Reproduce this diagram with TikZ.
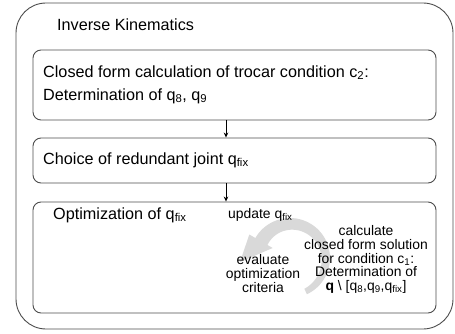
\documentclass[tikz,border=0pt]{standalone}
\usepackage{fontspec}
\setmainfont{Liberation Sans}
\usetikzlibrary{arrows.meta}
\begin{document}
\begin{tikzpicture}[x=1pt, y=-1pt, line join=round, line cap=round, >={Stealth[length=5pt,width=4.5pt]}]
	\def \bx{234.5}
	\def \bw{403}
	\tikzset{
		stage/.style={draw=black!70, line width=0.9pt, rounded corners=8pt, minimum width=\bw pt, inner sep=0pt},
		big/.style={font=\fontsize{16.2}{23}\selectfont, inner sep=0pt, align=left},
		small/.style={font=\fontsize{13.9}{13.8}\selectfont, inner sep=0pt, align=center},
		flow/.style={->, line width=0.9pt}
	}
	\useasboundingbox (0,0) rectangle (455,334);
	% --- outer frame
	\node[stage, rounded corners=30pt, minimum width=437pt, minimum height=326pt] (ik) at (\bx,166) {};
	\node[big, anchor=west] (iktitle) at (57,25) {Inverse Kinematics};
	% --- stages
	\node[stage, minimum height=70pt] (trocar) at (\bx,85) {};
	\node[big, anchor=west] (trocartext) at (43,84.5) {Closed form calculation of trocar condition c\textsubscript{2}:\\Determination of q\textsubscript{8}, q\textsubscript{9}};
	\node[stage, minimum height=45pt] (choice) at (\bx,160.5) {};
	\node[big, anchor=west] (choicetext) at (43,160) {Choice of redundant joint q\textsubscript{fix}};
	\node[stage, minimum height=111pt] (optim) at (\bx,257.5) {};
	\node[big, anchor=west] (optimtitle) at (53,215) {Optimization of q\textsubscript{fix}};
	\draw[flow] ([xshift=-8.5pt]trocar.south) -- ([xshift=-8.5pt]choice.north);
	\draw[flow] ([xshift=-8.5pt]choice.south) -- ([xshift=-8.5pt]optim.north);
	% --- loop arrow
	\begin{scope}[shift={(290,258)}, yscale=-1]
		\fill[black!15] (-65:40) arc (-65:150:40) -- (150:47) -- (-50,-4) -- (150:20)
			-- plot[domain=150:-65, samples=50] ({\x}:{34-8*(\x+65)/215}) -- cycle;
	\end{scope}
	\node[small, anchor=west] (update) at (228,215) {update q\textsubscript{fix}};
	\node[small] (calc) at (366,259.5) {calculate\\closed form solution\\for condition c\textsubscript{1}:\\Determination of\\\textbf{q} \textbackslash{} [q\textsubscript{8},q\textsubscript{9},q\textsubscript{fix}]};
	\node[small] (evaluate) at (263,273.5) {evaluate\\optimization\\criteria};
\end{tikzpicture}
\end{document}
